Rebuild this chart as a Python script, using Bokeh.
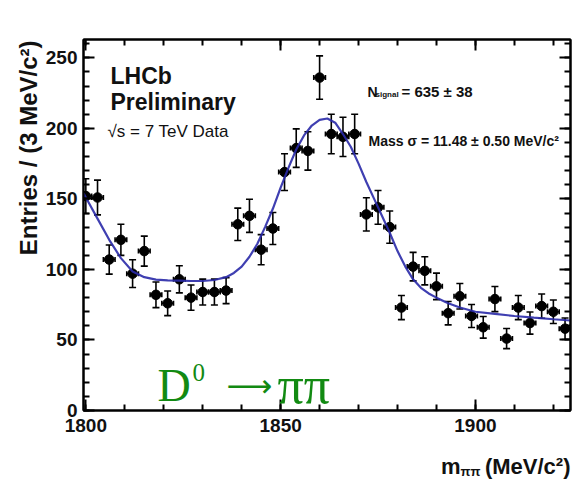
from bokeh.plotting import figure
from bokeh.models import (Range1d, LinearAxis, Whisker, ColumnDataSource, Label,
                          FixedTicker, TeeHead, CustomJSTickFormatter)
from bokeh.embed import file_html
from bokeh.resources import INLINE
import math

# --- data: D0 -> pi pi invariant-mass spectrum, 3 MeV/c^2 bins ---
bin_width = 3.0
mass_centres = [1800 + bin_width * i for i in range(42)]
entries = [152, 151, 107, 121, 97, 113, 82, 76, 93, 80,
           84, 84, 85, 132, 138, 114, 129, 169, 186, 184,
           236, 196, 194, 196, 139, 144, 130, 73, 102, 99,
           88, 69, 81, 67, 59, 79, 51, 73, 62, 74,
           70, 58]

# fitted signal + background curve
fit_mass = [1799.4, 1801, 1803, 1806, 1809, 1812, 1815, 1818, 1821, 1824,
            1827, 1830, 1833, 1836, 1838, 1840, 1842, 1844, 1846, 1848,
            1850, 1852, 1854, 1856, 1858, 1860, 1862, 1864, 1866, 1868,
            1870, 1872, 1874, 1876, 1878, 1880, 1882, 1884, 1886, 1888,
            1890, 1893, 1896, 1900, 1905, 1910, 1915, 1920, 1924.4]
fit_value = [154, 146, 136, 121, 108, 98.5, 94.5, 92.8, 92.2, 92.0,
             91.8, 91.8, 92.5, 94.5, 97.5, 102, 109, 118, 130, 143,
             158, 172, 185, 195, 202, 206, 207, 204, 196, 187,
             175, 162, 150, 138, 126, 113, 102, 93, 87, 83,
             80, 76, 73, 70, 68.5, 67, 65.8, 64.7, 63.8]

x_ticks = [1800, 1850, 1900]
x_minor = [1800 + 10 * i for i in range(13)]
y_ticks = [0, 50, 100, 150, 200, 250]
y_minor = [10 * i for i in range(27)]

X_LO, X_HI = 1799.4, 1924.4
Y_LO, Y_HI = 0, 263

SANS = "Liberation Sans, Arial, sans-serif"
SERIF = "Liberation Serif, Times New Roman, serif"
GREEN = "#128a12"
FIT_BLUE = "#2a2aa8"

# frame geometry on the page
FRAME_L, FRAME_R, FRAME_T, FRAME_B = 83, 570, 39, 410
W, H = 578, 484

p = figure(width=W, height=H,
           x_range=Range1d(X_LO, X_HI), y_range=Range1d(Y_LO, Y_HI),
           output_backend="svg", toolbar_location=None,
           min_border_left=FRAME_L, min_border_right=W - FRAME_R,
           min_border_top=FRAME_T, min_border_bottom=H - FRAME_B)
p.grid.visible = False
p.outline_line_color = "black"
p.outline_line_width = 2
p.background_fill_color = "white"
p.border_fill_color = "white"


def style_axis(ax, ticks, minor, show_labels):
    ax.ticker = FixedTicker(ticks=ticks, minor_ticks=minor)
    ax.axis_line_width = 2
    ax.axis_line_color = "black"
    ax.major_tick_in = 11
    ax.major_tick_out = 0
    ax.minor_tick_in = 6
    ax.minor_tick_out = 0
    ax.major_tick_line_width = 2
    ax.minor_tick_line_width = 2
    ax.major_label_text_font = SANS
    ax.major_label_text_font_style = "bold"
    ax.major_label_text_font_size = "19px"
    ax.major_label_text_color = "#111111"
    if not show_labels:
        ax.formatter = CustomJSTickFormatter(code="return ''")


style_axis(p.xaxis[0], x_ticks, x_minor, True)
p.xaxis[0].major_label_standoff = 8
style_axis(p.yaxis[0], y_ticks, y_minor, True)
p.yaxis[0].major_label_standoff = 6

top_axis = LinearAxis()
style_axis(top_axis, x_ticks, x_minor, False)
p.add_layout(top_axis, "above")
right_axis = LinearAxis()
style_axis(right_axis, y_ticks, y_minor, False)
p.add_layout(right_axis, "right")

# --- data points with Poisson errors ---
errors = [math.sqrt(n) for n in entries]
src = ColumnDataSource(dict(
    x=mass_centres, y=entries,
    lo=[n - e for n, e in zip(entries, errors)],
    hi=[n + e for n, e in zip(entries, errors)],
    xlo=[m - bin_width / 2 for m in mass_centres],
    xhi=[m + bin_width / 2 for m in mass_centres],
))

p.add_layout(Whisker(source=src, base="x", lower="lo", upper="hi", dimension="height",
                     line_color="black", line_width=1.6,
                     upper_head=TeeHead(size=7, line_color="black", line_width=1.6),
                     lower_head=TeeHead(size=7, line_color="black", line_width=1.6)))
p.add_layout(Whisker(source=src, base="y", lower="xlo", upper="xhi", dimension="width",
                     line_color="black", line_width=1.6,
                     upper_head=TeeHead(size=5, line_color="black", line_width=1.6),
                     lower_head=TeeHead(size=5, line_color="black", line_width=1.6)))
p.scatter("x", "y", source=src, size=9.5, color="black")

# --- fit ---
p.line(fit_mass, fit_value, line_color=FIT_BLUE, line_width=2.2, line_alpha=0.9)


# --- text annotations, placed by page pixel (baseline-anchored) ---
def px_x(px):
    return X_LO + (px - FRAME_L) * (X_HI - X_LO) / (FRAME_R - FRAME_L)


def px_y(py):
    return Y_LO + (FRAME_B - py) * (Y_HI - Y_LO) / (FRAME_B - FRAME_T)


def txt(text, x, y, size, font=SANS, bold=True, color="#111111", align="left",
        angle=0.0, place=None):
    lab = Label(x=px_x(x), y=px_y(y), text=text, text_font=font,
                text_font_size=f"{size}px",
                text_font_style="bold" if bold else "normal",
                text_color=color, text_align=align, text_baseline="alphabetic",
                angle=angle)
    if place is None:
        p.add_layout(lab)
    else:
        p.add_layout(lab, place)


txt("LHCb", 110, 75, 23)
txt("Preliminary", 110, 101, 23)
txt("\u221as = 7 TeV Data", 107, 131, 17, bold=False)

txt("N", 367, 91, 14)
txt("signal", 375, 94, 8)
txt("= 635 \u00b1 38", 401, 91, 15)
txt("Mass \u03c3 = 11.48 \u00b1 0.50 MeV/c\u00b2", 368, 140, 14)

txt("D", 157, 385, 46, font=SERIF, bold=False, color=GREEN)
txt("0", 192, 372, 25, font=SERIF, bold=False, color=GREEN)
txt("\u27f6", 226, 385, 32, font="DejaVu Sans", bold=False, color=GREEN)
txt("\u03c0\u03c0", 277, 385, 52, font=SERIF, bold=False, color=GREEN)

# axis titles sit in the side panels (outside the clipped data frame)
nb = "\u00a0"
txt("m" + nb * 4 + "(MeV/c\u00b2)", 570, 466, 22, align="right", place="below")
txt("\u03c0\u03c0", 460, 471, 13, place="above")
txt("Entries / (3 MeV/c\u00b2)", 28, 40, 24, align="right", angle=math.pi / 2,
    place="left")

open("out.html", "w").write(file_html(p, INLINE))
